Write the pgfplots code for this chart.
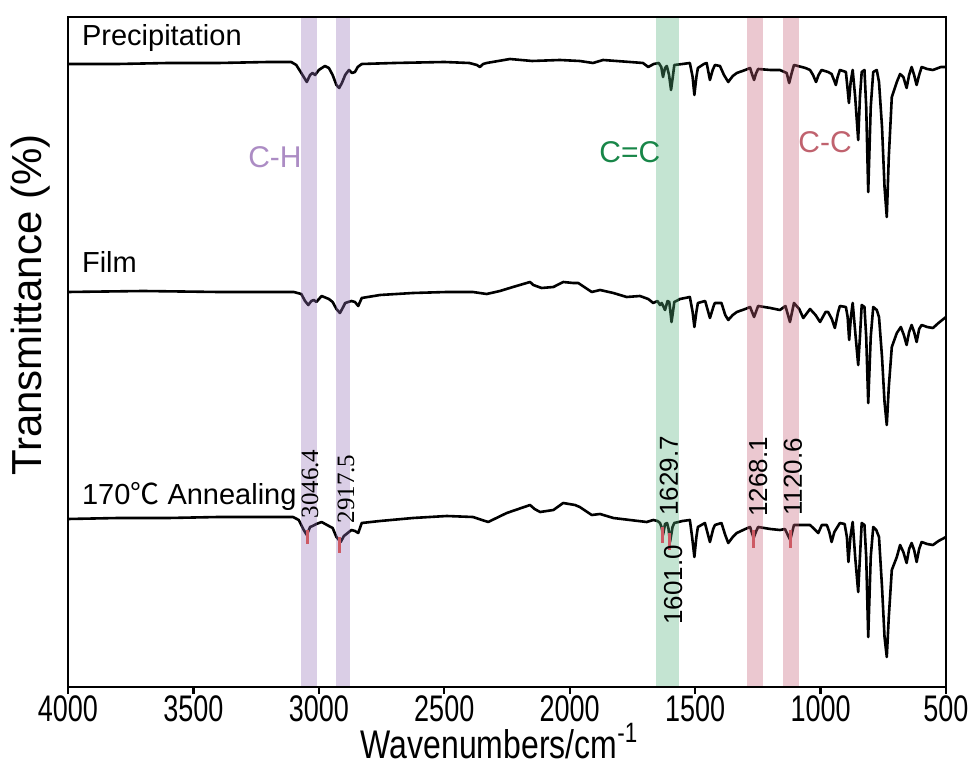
\documentclass[border=0pt]{standalone}
\usepackage{fontspec}
\setmainfont{Liberation Sans}
\newfontfamily\narrowfont[FakeStretch=0.73]{Liberation Sans}
\newfontfamily\labfont[FakeStretch=0.8]{Liberation Sans}
\newfontfamily\serif{Liberation Serif}
\newfontfamily\cjk{Noto Sans CJK SC}
\usepackage{pgfplots}
\pgfplotsset{compat=1.18}
\definecolor{bandpurple}{RGB}{149,115,184}
\definecolor{bandgreen}{RGB}{86,178,126}
\definecolor{bandpink}{RGB}{198,98,121}
\definecolor{txtpurple}{RGB}{172,140,196}
\definecolor{txtgreen}{RGB}{24,134,72}
\definecolor{txtpink}{RGB}{192,98,110}
\definecolor{peakred}{RGB}{205,90,100}

\pgfplotstableread{
w y
4000 623
3800 623
3600 624
3400 624
3200 625
3110 625
3090 622
3070 614
3048 605
3035 612
3025 614
3015 612
3000 617
2976 621
2960 619
2945 612
2930 602
2919 599
2908 604
2895 612
2880 617
2868 614
2856 615
2845 620
2829 623
2700 624
2500 625
2400 624
2370 622
2358 620
2345 623
2331 624
2238 628
2150 626
2039 627
1960 626
1907 624
1867 627
1760 625
1708 624
1687 620
1665 623
1645 624
1635 620
1628 610
1620 619
1613 621
1604 612
1596 597
1588 612
1583 622
1550 623
1521 624
1510 610
1503 592
1495 610
1489 619
1465 623
1454 624
1441 607
1430 617
1421 622
1401 621
1385 612
1368 605
1350 611
1334 614
1300 617
1281 619
1272 612
1265 607
1258 613
1249 618
1200 617
1162 617
1135 614
1125 604
1115 614
1106 622
1060 619
1042 617
1030 612
1018 605
1008 612
996 617
970 615
956 613
945 606
939 602
932 610
923 617
899 615
893 600
887 584
880 605
872 617
862 590
850 547
843 590
836 615
825 617
818 580
810 495
800 580
790 615
776 617
767 605
755 560
745 500
736 470
728 530
716 590
696 605
683 613
670 610
657 599
647 612
637 620
627 612
617 602
607 612
597 620
575 618
552 617
520 620
500 620
}\precip

\pgfplotstableread{
w y
4000 395
3700 396
3400 395
3200 395
3100 395
3070 393
3055 386
3042 382
3030 386
3020 387
3010 385
2989 391
2960 388
2945 385
2930 378
2916 374
2905 379
2895 384
2870 386
2856 385
2843 381
2829 389
2756 392
2625 394
2490 395
2386 395
2331 393
2278 396
2226 400
2158 405
2145 402
2112 399
2065 400
2026 405
1986 404
1966 404
1912 395
1879 397
1826 394
1773 390
1720 391
1687 388
1667 384
1650 386
1640 382
1633 384
1620 377
1610 386
1603 385
1594 365
1583 385
1560 388
1521 390
1510 375
1503 360
1495 375
1489 384
1460 386
1441 369
1425 382
1421 384
1395 384
1380 372
1368 367
1350 372
1334 375
1300 378
1281 380
1265 370
1249 381
1200 379
1162 377
1140 381
1122 365
1106 384
1085 378
1069 369
1042 378
1020 372
1002 365
980 375
970 375
955 368
943 359
930 375
923 381
899 380
892 370
886 347
879 370
872 384
860 350
850 322
843 350
836 382
825 380
818 350
810 284
800 350
790 380
776 377
767 370
755 330
745 285
736 262
728 300
716 340
696 354
680 360
668 352
657 342
647 355
637 362
627 355
617 345
607 358
597 362
575 360
552 359
530 364
500 370
}\film

\pgfplotstableread{
w y
4000 168
3800 169
3600 169
3400 170
3200 170
3103 170
3080 167
3060 157
3048 152
3035 160
3025 161
3010 163
2989 165
2960 161
2945 159
2930 150
2913 145
2900 151
2885 154
2870 157
2856 156
2843 154
2829 164
2756 166
2625 169
2490 171
2386 170
2325 165
2251 174
2158 182
2140 178
2118 175
2065 177
2026 184
1979 182
1960 180
1912 172
1879 173
1826 169
1760 167
1693 165
1667 167
1650 166
1640 164
1634 160
1628 152
1620 163
1612 164
1606 158
1600 145
1590 160
1583 164
1550 166
1521 167
1512 150
1503 130
1495 150
1489 160
1461 164
1441 145
1428 158
1421 162
1395 164
1380 152
1368 144
1350 150
1334 154
1300 158
1281 160
1272 153
1267 149
1258 155
1249 160
1200 158
1162 157
1142 158
1121 147
1106 162
1042 162
1025 158
1009 154
995 162
975 162
965 155
956 145
945 155
923 164
904 163
895 150
889 125
881 150
872 165
862 130
850 95
843 130
836 164
825 162
818 130
810 50
800 130
790 160
778 157
767 150
755 100
745 50
736 30
728 70
716 117
696 130
683 142
670 135
657 124
647 138
637 144
627 137
617 125
607 138
597 145
575 143
552 142
530 146
500 150
}\anneal

\begin{document}
\begin{tikzpicture}
\begin{axis}[
  scale only axis, width=439pt, height=335pt,
  xmin=500, xmax=4000, x dir=reverse,
  ymin=0, ymax=670,
  xtick={500,1000,...,4000}, ytick=\empty,
  xtick pos=bottom,
  tick align=outside, major tick length=3.5pt,
  xtick style={line width=1.1pt, black},
  axis line style={line width=1.2pt},
  axis on top,
  /pgf/number format/assume math mode=true,
  /pgf/number format/1000 sep={},
  x tick label style={font=\narrowfont\fontsize{18.5}{20}\selectfont, inner sep=0.5pt},
  xlabel={Wavenumbers/cm\raisebox{0.4em}{\fontsize{14}{15}\selectfont -1}},
  xlabel style={font=\labfont\fontsize{20}{22}\selectfont, inner sep=0pt, at={(axis description cs:0.491,-0.107)}, anchor=base},
  ylabel={Transmittance (\%)},
  ylabel style={font=\fontsize{21}{23}\selectfont, at={(axis description cs:-0.043,0.57)}, anchor=center},
]
\addplot[black, line width=1.3pt, line join=round] table[x=w, y=y] {\precip};
\addplot[black, line width=1.3pt, line join=round] table[x=w, y=y] {\film};
\addplot[black, line width=1.3pt, line join=round] table[x=w, y=y] {\anneal};

\fill[bandpurple, fill opacity=0.35] (3072,0) rectangle (3006,670);
\fill[bandpurple, fill opacity=0.35] (2932,0) rectangle (2876,670);
\fill[bandgreen, fill opacity=0.35] (1656,0) rectangle (1566,670);
\fill[bandpink, fill opacity=0.35] (1292,0) rectangle (1228,670);
\fill[bandpink, fill opacity=0.35] (1151,0) rectangle (1087,670);

\addplot[peakred, line width=1.4pt] coordinates {(3046.4,157) (3046.4,143)};
\addplot[peakred, line width=1.4pt] coordinates {(2917.5,150) (2917.5,134)};
\addplot[peakred, line width=1.4pt] coordinates {(1629.7,160) (1629.7,144)};
\addplot[peakred, line width=1.4pt] coordinates {(1601.0,154) (1601.0,137)};
\addplot[peakred, line width=1.4pt] coordinates {(1268.1,157) (1268.1,139)};
\addplot[peakred, line width=1.4pt] coordinates {(1120.6,157) (1120.6,139)};

\node[anchor=west, font=\fontsize{14.5}{16}\selectfont] at (3972,649) {Precipitation};
\node[anchor=west, font=\fontsize{14.5}{16}\selectfont] at (3972,425) {Film};
\node[anchor=west, font=\fontsize{14.5}{16}\selectfont] at (3972,191) {170{\cjk ℃} Annealing};

\node[txtpurple, font=\fontsize{15}{16}\selectfont] at (3175,530) {C-H};
\node[txtgreen, font=\fontsize{15}{16}\selectfont] at (1760,535) {C=C};
\node[txtpink, font=\fontsize{15}{16}\selectfont] at (982,545) {C-C};

\node[rotate=90, inner sep=0pt, font=\serif\fontsize{12.5}{13}\selectfont] at (3035,203) {3046.4};
\node[rotate=90, inner sep=0pt, font=\serif\fontsize{12.5}{13}\selectfont] at (2892,198) {2917.5};
\node[rotate=90, font=\fontsize{13}{14}\selectfont] at (1604,211) {1629.7};
\node[rotate=90, font=\fontsize{13}{14}\selectfont] at (1588,102) {1601.0};
\node[rotate=90, font=\fontsize{13}{14}\selectfont] at (1249,210) {1268.1};
\node[rotate=90, font=\fontsize{13}{14}\selectfont] at (1110,210) {1120.6};
\end{axis}
\pgfresetboundingbox
\path[use as bounding box] (current axis.south west) ++(-34pt,-39pt) rectangle ++(486.5pt,382.5pt);
\end{tikzpicture}
\end{document}
